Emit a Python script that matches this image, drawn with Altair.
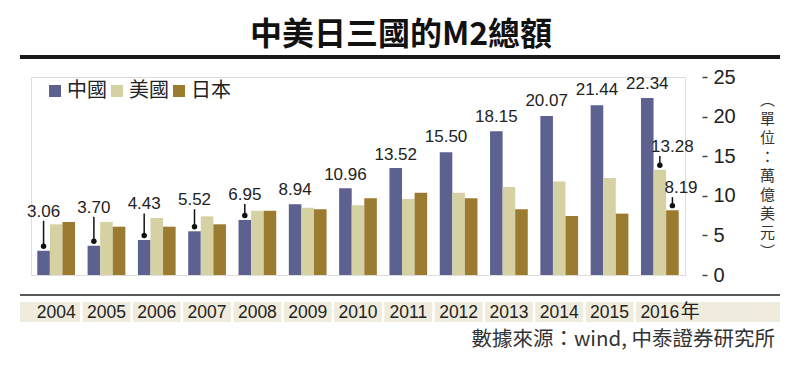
import altair as alt
import pandas as pd

# ---------------- data ----------------
years = ["2004", "2005", "2006", "2007", "2008", "2009", "2010",
         "2011", "2012", "2013", "2014", "2015", "2016"]
series = ["中國", "美國", "日本"]
china = [3.06, 3.70, 4.43, 5.52, 6.95, 8.94, 10.96, 13.52, 15.50, 18.15, 20.07, 21.44, 22.34]
usa = [6.4, 6.7, 7.2, 7.4, 8.1, 8.5, 8.8, 9.6, 10.4, 11.1, 11.8, 12.25, 13.28]
japan = [6.7, 6.1, 6.1, 6.4, 8.1, 8.3, 9.7, 10.4, 9.7, 8.3, 7.45, 7.75, 8.19]
y_ticks = [0, 5, 10, 15, 20, 25]
title_text = "中美日三國的M2總額"
unit_title = ["︵", "單", "位", "：", "萬", "億", "美", "元", "︶"]
source_text = "數據來源：wind, 中泰證券研究所"
year_suffix = "年"

# ---------------- style / layout ----------------
colors = ["#5c6190", "#d6d1a2", "#9b7b2f"]
W, H = 654, 198
YMAX = 25
PXU = H / YMAX
NUM_FONT = "Liberation Sans, Arial, sans-serif"
CJK_FONT = "Noto Sans CJK TC, Noto Sans CJK SC, sans-serif"
TXT = "#222222"
# pixel lift of the value labels above the bar tops (annotation layout)
china_lift = [39, 38, 35.5, 31, 25, 14, 13, 13, 15, 14, 15, 15, 14]
china_leader = [True, True, True, True, True] + [False] * 8

bars = pd.DataFrame(
    [{"year": y, "series": s, "value": v}
     for s, vals in zip(series, [china, usa, japan])
     for y, v in zip(years, vals)]
)

ann = pd.DataFrame({
    "year": years,
    "series": "中國",
    "value": china,
    "lift": china_lift,
    "leader": china_leader,
})
ann_us = pd.DataFrame({"year": [years[-1]], "series": ["美國"], "value": [usa[-1]],
                       "lift": [22.7], "leader": [True]})
ann_jp = pd.DataFrame({"year": [years[-1]], "series": ["日本"], "value": [japan[-1]],
                       "lift": [22.0], "leader": [True]})
for d in (ann, ann_us, ann_jp):
    d["label"] = d["value"].map(lambda v: f"{v:.2f}")
    d["label_y"] = d["value"] + d["lift"] / PXU
    d["dot_y"] = d["value"] + 4.5 / PXU
    d["line_top"] = d["value"] + (d["lift"] - 9) / PXU

xscale = alt.Scale(domain=years, paddingInner=0.25, paddingOuter=0.125)
oscale = alt.Scale(domain=series, paddingInner=0, paddingOuter=0)
yscale = alt.Scale(domain=[0, YMAX], nice=False, zero=True)
X = lambda **kw: alt.X("year:N", scale=xscale, axis=None, **kw)
XO = alt.XOffset("series:N", scale=oscale)

one = pd.DataFrame({"k": [0]})

band = alt.Chart(one).mark_rect(color="#efebdd").encode(
    x=alt.value(-11), x2=alt.value(749), y=alt.value(225), y2=alt.value(245))

seps = alt.Chart(pd.DataFrame({"year": years[1:]})).mark_rule(
    color="white", strokeWidth=2.5).encode(
    x=X(bandPosition=0), xOffset=alt.value(-W / 13 * 0.125),
    y=alt.value(225), y2=alt.value(245))

thin = alt.Chart(one).mark_rule(color="#222222", strokeWidth=1.5).encode(
    x=alt.value(-11), x2=alt.value(749), y=alt.value(218))
thick = alt.Chart(one).mark_rule(color="#1a1a1a", strokeWidth=4).encode(
    x=alt.value(-11), x2=alt.value(749), y=alt.value(-20))

bar_layer = alt.Chart(bars).mark_bar().encode(
    x=X(),
    xOffset=XO,
    y=alt.Y("value:Q", scale=yscale,
            axis=alt.Axis(orient="right", values=y_ticks, tickCount=6, offset=17,
                          domain=False, grid=False, tickSize=5, tickWidth=1.5,
                          tickColor="#444444", labelOverlap=False, labelBound=False,
                          labelFlush=False,
                          labelPadding=6, labelFont=NUM_FONT, labelFontSize=20,
                          labelColor=TXT, title=unit_title, titleAngle=0,
                          titleAlign="center", titleBaseline="top", titleX=65,
                          titleY=15, titleFont=CJK_FONT, titleFontSize=15,
                          titleFontWeight="normal", titleColor="#333333",
                          titleLineHeight=19)),
    color=alt.Color("series:N", scale=alt.Scale(domain=series, range=colors),
                    legend=alt.Legend(orient="none", legendX=14, legendY=4,
                                      direction="horizontal", title=None,
                                      symbolType="square", symbolSize=144,
                                      symbolStrokeWidth=0, labelFont=CJK_FONT,
                                      labelFontSize=20, labelColor=TXT,
                                      labelOffset=2, columnPadding=0, padding=0)),
)

year_text = alt.Chart(pd.DataFrame({"year": years})).mark_text(
    font=NUM_FONT, fontSize=17.5, color=TXT, baseline="middle").encode(
    x=X(), y=alt.value(236), text="year:N")

nian = alt.Chart(pd.DataFrame({"year": [years[-1]]})).mark_text(
    font=CJK_FONT, fontSize=19, color=TXT, baseline="middle", align="left", dx=21).encode(
    x=X(), y=alt.value(235), text=alt.value(year_suffix))


def label_layers(df, dx):
    lead = df[df["leader"]]
    rule = alt.Chart(lead).mark_rule(color="#111111", strokeWidth=1.5).encode(
        x=X(), xOffset=XO,
        y=alt.Y("dot_y:Q", scale=yscale), y2="line_top:Q")
    dot = alt.Chart(lead).mark_circle(color="#111111", opacity=1, size=30).encode(
        x=X(), xOffset=XO, y=alt.Y("dot_y:Q", scale=yscale))
    txt = alt.Chart(df).mark_text(font=NUM_FONT, fontSize=17, color=TXT,
                                  baseline="middle", dx=dx).encode(
        x=X(), xOffset=XO, y=alt.Y("label_y:Q", scale=yscale), text="label:N")
    return [rule, dot, txt]


source = alt.Chart(one).mark_text(font=CJK_FONT, fontSize=20.5, color="#333333",
                                  align="right", baseline="middle").encode(
    x=alt.value(744), y=alt.value(263), text=alt.value(source_text))

title = alt.Chart(one).mark_text(font=CJK_FONT, fontSize=32, fontWeight="bold",
                                 color="#111111", align="center",
                                 baseline="middle").encode(
    x=alt.value(370), y=alt.value(-42), text=alt.value(title_text))

layers = [band, seps, thin, thick, bar_layer, year_text, nian]
layers += label_layers(ann, 0) + label_layers(ann_us, 12.5) + label_layers(ann_jp, 8.6)
layers += [source, title]

chart = alt.layer(*layers).properties(
    width=W, height=H,
    autosize=alt.AutoSizeParams(type="none"),
    padding={"left": 23, "top": 69, "right": 103, "bottom": 78},
).configure_view(stroke=None).configure(background="white")

chart.save("out.html", embed_options={"renderer": "svg", "actions": False})
